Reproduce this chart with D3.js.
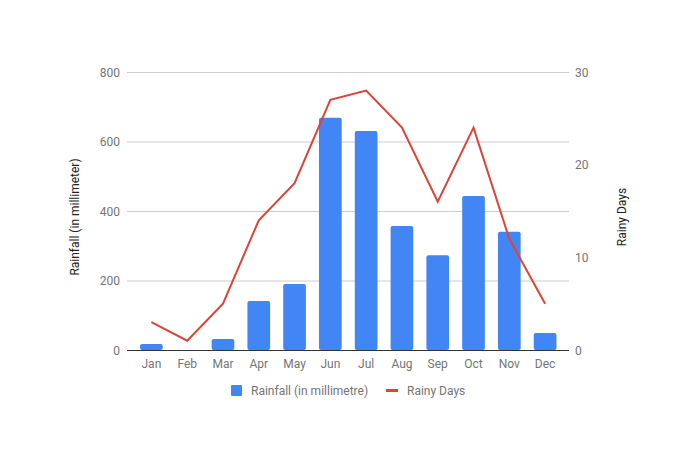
<!DOCTYPE html>
<html>
<head>
<meta charset="utf-8">
<script src="https://d3js.org/d3.v7.min.js"></script>
<style>
  body { margin: 0; background: #fff; }
  text { font-family: Roboto, Arial, sans-serif; }
</style>
</head>
<body>
<div id="chart"></div>
<script>
// data
var months = ["Jan","Feb","Mar","Apr","May","Jun","Jul","Aug","Sep","Oct","Nov","Dec"];
var rainfall = [17, 0, 32, 141, 190, 668, 630, 357, 273, 443, 340, 49];
var rainyDays = [3, 1, 5, 14, 18, 27, 28, 24, 16, 24, 12, 5];
var leftTicks = [0, 200, 400, 600, 800];
var rightTicks = [0, 10, 20, 30];

var W = 696, H = 464;
var gridL = 127, gridR = 569, plotTop = 72, plotBottom = 350;

var svg = d3.select("#chart").append("svg")
    .attr("width", W).attr("height", H);

var x = d3.scaleBand().domain(months).range([133.5, 563]).paddingInner(0.366).paddingOuter(0.183);
var yL = d3.scaleLinear().domain([0, 800]).range([plotBottom, plotTop]);
var yR = d3.scaleLinear().domain([0, 30]).range([plotBottom, plotTop]);

// gridlines
svg.selectAll("line.grid").data(leftTicks).enter().append("line")
   .attr("x1", gridL).attr("x2", gridR)
   .attr("y1", function(d) { return yL(d) + 0.5; }).attr("y2", function(d) { return yL(d) + 0.5; })
   .attr("stroke", "#cccccc").attr("stroke-width", 1);

// left axis labels
svg.selectAll("text.ly").data(leftTicks).enter().append("text")
   .attr("x", 120).attr("y", function(d) { return yL(d) + 4.5; })
   .attr("text-anchor", "end").attr("font-size", 12).attr("fill", "#757575")
   .text(function(d) { return d; });

// right axis labels
svg.selectAll("text.ry").data(rightTicks).enter().append("text")
   .attr("x", 575).attr("y", function(d) { return yR(d) + 4.5; })
   .attr("text-anchor", "start").attr("font-size", 12).attr("fill", "#757575")
   .text(function(d) { return d; });

// bars
svg.selectAll("rect.bar").data(rainfall).enter().append("rect")
   .attr("x", function(d, i) { return x(months[i]); })
   .attr("y", function(d) { return yL(d); })
   .attr("width", x.bandwidth())
   .attr("height", function(d) { return plotBottom - yL(d); })
   .attr("rx", 2)
   .attr("fill", "#4285f4");

// baseline
svg.append("line").attr("x1", gridL).attr("x2", gridR)
   .attr("y1", plotBottom + 0.5).attr("y2", plotBottom + 0.5)
   .attr("stroke", "#333333").attr("stroke-width", 1);

// rainy days line
var line = d3.line()
   .x(function(d, i) { return x(months[i]) + x.bandwidth() / 2; })
   .y(function(d) { return yR(d); });
svg.append("path").datum(rainyDays)
   .attr("d", line).attr("fill", "none")
   .attr("stroke", "#db4437").attr("stroke-width", 2);

// x labels
svg.selectAll("text.xl").data(months).enter().append("text")
   .attr("x", function(d) { return x(d) + x.bandwidth() / 2; })
   .attr("y", 368).attr("text-anchor", "middle")
   .attr("font-size", 12).attr("fill", "#757575")
   .text(function(d) { return d; });

// axis titles
svg.append("text").attr("transform", "translate(79,217) rotate(-90)")
   .attr("text-anchor", "middle").attr("font-size", 12).attr("fill", "#222222")
   .text("Rainfall (in millimeter)");
svg.append("text").attr("transform", "translate(626,217) rotate(-90)")
   .attr("text-anchor", "middle").attr("font-size", 12).attr("fill", "#222222")
   .text("Rainy Days");

// legend
svg.append("rect").attr("x", 231).attr("y", 385).attr("width", 11).attr("height", 11)
   .attr("rx", 1).attr("fill", "#4285f4");
svg.append("text").attr("x", 251).attr("y", 395).attr("font-size", 12).attr("fill", "#757575")
   .text("Rainfall (in millimetre)");
svg.append("line").attr("x1", 386).attr("x2", 398).attr("y1", 390.5).attr("y2", 390.5)
   .attr("stroke", "#db4437").attr("stroke-width", 3);
svg.append("text").attr("x", 407).attr("y", 395).attr("font-size", 12).attr("fill", "#757575")
   .text("Rainy Days");
</script>
</body>
</html>
